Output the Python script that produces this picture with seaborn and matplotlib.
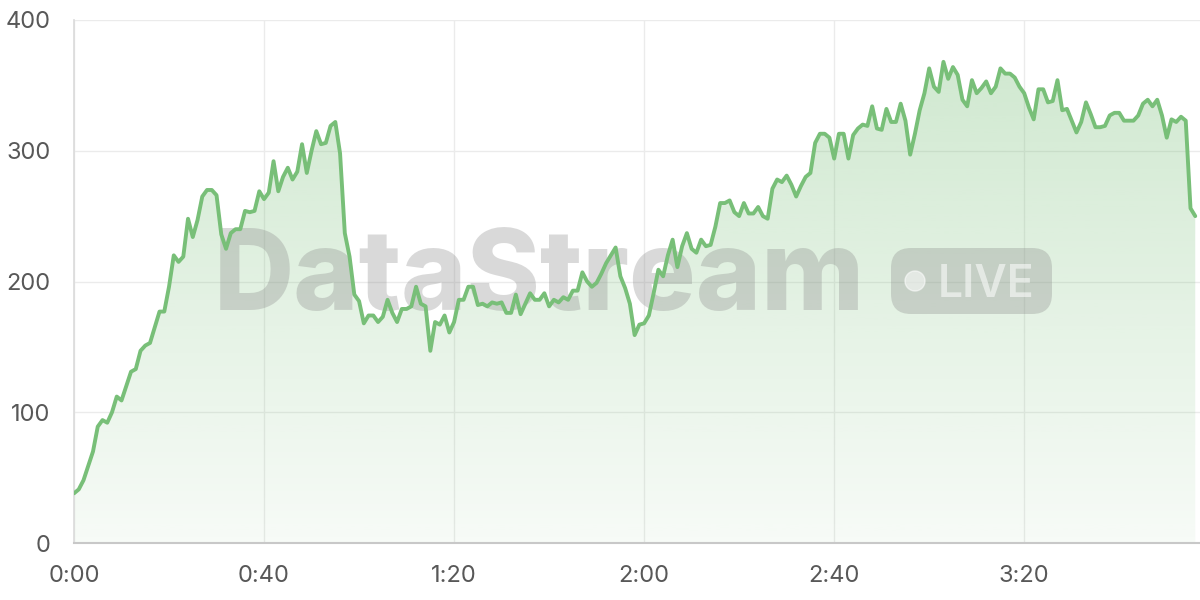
import numpy as np
import pandas as pd
import matplotlib
matplotlib.use("Agg")
import matplotlib.pyplot as plt
import seaborn as sns
from matplotlib.patches import FancyBboxPatch, Circle
from matplotlib.ticker import FuncFormatter

# values, one per second (0:00 .. 3:56)
seg_a = [38, 41, 48, 59, 70, 89, 94, 92, 100, 112, 109, 120, 131, 133, 147, 151,
         153, 165, 177, 177, 196, 220, 215, 219, 248, 234, 247, 265, 270, 270, 266,
         236, 225, 237, 240, 240, 254, 253, 254, 269, 263, 268, 292, 269, 280, 287,
         278, 284, 305, 283, 300, 315, 305, 306, 319, 322, 298, 237, 219, 190, 185,
         168, 174, 174, 169, 173, 186, 176, 169, 179, 179, 181, 196, 183, 181, 147]
seg_b = [169, 167, 174, 161, 169, 186, 186, 196, 196, 182, 183, 181, 184, 183, 184,
         176, 176, 190, 175, 183, 191, 186, 186, 191, 181, 186, 184, 188, 186, 193,
         193, 207, 200, 196, 199, 206, 214, 220, 226, 204, 195, 183, 159, 167, 168,
         174, 191, 209, 204, 220, 232, 211, 227, 237, 225, 222, 232, 227, 228, 242,
         260, 260, 262, 253, 250, 260, 252, 252, 257, 250, 248, 271, 278, 276, 281,
         274, 265, 273, 280, 283, 306, 313, 313, 310, 294, 313, 313, 294, 312, 317]
seg_c = [320, 319, 334, 317, 316, 332, 322, 322, 336, 323, 297, 313, 331, 344, 363,
         349, 345, 368, 355, 364, 358, 339, 334, 354, 344, 348, 353, 344, 349, 363,
         359, 359, 356, 349, 344, 333, 324, 347, 347, 337, 338, 354, 331, 332, 323,
         314, 322, 337, 328, 318, 318, 319, 327, 329, 329, 323, 323, 323, 327, 336,
         339, 334, 339, 327, 310, 324, 322, 326, 323, 256, 250]
values = seg_a + seg_b + seg_c
seconds = list(range(len(values)))
tick_seconds = [0, 40, 80, 120, 160, 200]
y_ticks = [0, 100, 200, 300, 400]

df = pd.DataFrame({"t": seconds, "v": values})

line_col = "#78bf78"
grid_col = "#ebebeb"
text_col = "#585858"

sns.set_theme(style="white")
plt.rcParams["font.family"] = ["Inter", "DejaVu Sans"]

fig = plt.figure(figsize=(12, 6), dpi=100)
ax = fig.add_axes([74 / 1200, 57 / 600, 1 - 74 / 1200, 523 / 600])

# gradient fill under the line
fill = ax.fill_between(df["t"], df["v"], 0, facecolor="none", edgecolor="none")
grad = np.zeros((256, 1, 4))
grad[..., 0] = 120 / 255
grad[..., 1] = 191 / 255
grad[..., 2] = 120 / 255
grad[:, 0, 3] = np.linspace(0.06, 0.37, 256)
im = ax.imshow(grad, extent=[0, 237, 0, 400], origin="lower", aspect="auto", zorder=2)
im.set_clip_path(fill.get_paths()[0], transform=ax.transData)

sns.lineplot(data=df, x="t", y="v", color=line_col, linewidth=2.8, ax=ax, zorder=5)

# watermark, placed in figure pixels (converted to inches)
px = lambda x, y: (x / 100, (600 - y) / 100)
wm = fig.dpi_scale_trans
ax.text(*px(539, 310), "DataStream", transform=wm, ha="center", va="baseline",
        fontsize=80, fontweight="heavy", color="#8a8a8a", alpha=0.32, zorder=4, clip_on=False)
box = FancyBboxPatch(px(891, 314), 1.61, 0.66, boxstyle="round,pad=0,rounding_size=0.2",
                     transform=wm, facecolor="#8a8a8a", edgecolor="none", alpha=0.32,
                     zorder=4, clip_on=False)
ax.add_patch(box)
ax.add_patch(Circle(px(915, 281), 0.1, transform=wm, facecolor="white", alpha=0.55,
                    zorder=4, clip_on=False))
ax.text(*px(986, 297), "LIVE", transform=wm, ha="center", va="baseline",
        fontsize=32, fontweight="semibold", color="white", alpha=0.55, zorder=4, clip_on=False)

ax.set_xlim(0, 237)
ax.set_ylim(0, 400)
ax.set_xticks(tick_seconds)
ax.set_yticks(y_ticks)
ax.xaxis.set_major_formatter(FuncFormatter(lambda s, _: f"{int(s) // 60}:{int(s) % 60:02d}"))
ax.grid(True, color=grid_col, linewidth=1, zorder=0)
ax.set_axisbelow(True)
ax.set_xlabel("")
ax.set_ylabel("")
for side in ["top", "right"]:
    ax.spines[side].set_visible(False)
ax.spines["left"].set_color("#dcdcdc")
ax.spines["bottom"].set_color("#c8c8c8")
ax.spines["bottom"].set_linewidth(1.5)
ax.tick_params(axis="x", length=8, width=1, color="#dcdcdc", pad=8, labelsize=17, labelcolor=text_col)
ax.tick_params(axis="y", length=11, width=1, color=grid_col, pad=6, labelsize=17, labelcolor=text_col)

fig.savefig("out.png", dpi=100)
